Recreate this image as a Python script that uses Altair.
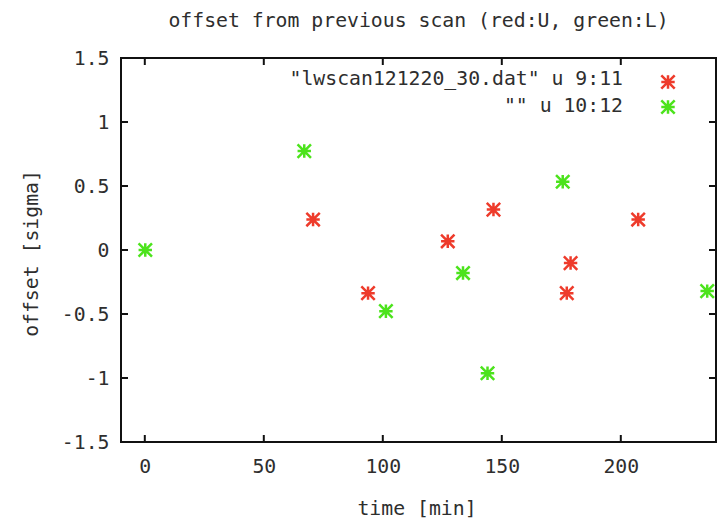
import altair as alt
import pandas as pd

# ---- data ----
u_time = [70.7, 93.8, 127.3, 146.5, 177.3, 178.9, 207.3]
u_offset = [0.238, -0.337, 0.068, 0.316, -0.337, -0.102, 0.238]
l_time = [0.2, 67.0, 101.3, 133.7, 144.0, 175.6, 236.3]
l_offset = [0.0, 0.773, -0.478, -0.18, -0.963, 0.533, -0.321]

series_names = ["U", "L"]
series_colors = ["#ee3b2b", "#4ce31c"]
legend_labels = ['"lwscan121220_30.dat" u 9:11', '"" u 10:12']

x_ticks = [0, 50, 100, 150, 200]
y_ticks = [-1.5, -1.0, -0.5, 0.0, 0.5, 1.0, 1.5]

title_text = "offset from previous scan (red:U, green:L)"
x_title = "time [min]"
y_title = "offset [sigma]"

# ---- layout / style ----
W, H = 595, 384
FONT = "DejaVu Sans Mono"
FS = 19.8
TXT = "#2e2e2e"
TICK = 7
STAR = "M-1,0L1,0M0,-1L0,1M-1,-1L1,1M-1,1L1,-1"
LEG_TEXT_Y = [21, 48]
LEG_MARK_Y = [24, 49]

df = pd.DataFrame({
    "time": u_time + l_time,
    "offset": u_offset + l_offset,
    "series": ["U"] * len(u_time) + ["L"] * len(l_time),
})
xt = pd.DataFrame({"t": x_ticks})
yt = pd.DataFrame({"v": y_ticks})

xscale = alt.Scale(domain=[-10, 240], nice=False, zero=False)
yscale = alt.Scale(domain=[-1.5, 1.5], nice=False, zero=False)
cscale = alt.Scale(domain=series_names, range=series_colors)

xaxis = alt.Axis(values=x_ticks, ticks=False, domain=False, grid=False,
                 labelFont=FONT, labelFontSize=FS, labelColor=TXT, labelPadding=14,
                 title=x_title, titleFont=FONT, titleFontSize=FS, titleFontWeight="normal",
                 titleColor=TXT, titleX=W / 2 - 2, titleY=66, titleBaseline="middle",
                 titleAlign="center")
yaxis = alt.Axis(values=y_ticks, ticks=False, domain=False, grid=False,
                 labelExpr="toString(datum.value)",
                 labelFont=FONT, labelFontSize=FS, labelColor=TXT, labelPadding=12,
                 title=y_title, titleFont=FONT, titleFontSize=FS, titleFontWeight="normal",
                 titleColor=TXT, titleX=-90, titleY=H / 2 + 3, titleAngle=270,
                 titleBaseline="middle", titleAlign="center")

points = alt.Chart(df).mark_point(shape=STAR, filled=False, size=180, strokeWidth=2.5,
                                  opacity=1).encode(
    x=alt.X("time:Q", scale=xscale, axis=xaxis),
    y=alt.Y("offset:Q", scale=yscale, axis=yaxis),
    color=alt.Color("series:N", scale=cscale, legend=None),
)

rule_style = dict(color="#111", strokeWidth=2)
xt_bottom = alt.Chart(xt).mark_rule(**rule_style).encode(
    x=alt.X("t:Q", scale=xscale), y=alt.value(H), y2=alt.value(H - TICK))
xt_top = alt.Chart(xt).mark_rule(**rule_style).encode(
    x=alt.X("t:Q", scale=xscale), y=alt.value(0), y2=alt.value(TICK))
yt_left = alt.Chart(yt).mark_rule(**rule_style).encode(
    y=alt.Y("v:Q", scale=yscale), x=alt.value(0), x2=alt.value(TICK))
yt_right = alt.Chart(yt).mark_rule(**rule_style).encode(
    y=alt.Y("v:Q", scale=yscale), x=alt.value(W), x2=alt.value(W - TICK))

legend_layers = []
for i, (lab, name, col) in enumerate(zip(legend_labels, series_names, series_colors)):
    row = pd.DataFrame({"label": [lab]})
    legend_layers.append(
        alt.Chart(row).mark_text(align="right", baseline="middle", font=FONT,
                                 fontSize=FS, color=TXT).encode(
            text="label:N", x=alt.value(502), y=alt.value(LEG_TEXT_Y[i]))
    )
    legend_layers.append(
        alt.Chart(row).mark_point(shape=STAR, filled=False, size=180, strokeWidth=2.5,
                                  opacity=1, color=col).encode(
            x=alt.value(547), y=alt.value(LEG_MARK_Y[i]))
    )

chart = alt.layer(points, xt_bottom, xt_top, yt_left, yt_right, *legend_layers).properties(
    width=W, height=H,
    title=alt.TitleParams(title_text, font=FONT, fontSize=FS, fontWeight="normal",
                          color=TXT, anchor="middle", offset=17),
    padding={"left": 121, "top": 58, "right": 1, "bottom": 78},
    autosize=alt.AutoSizeParams(type="none"),
).configure_view(stroke="#111", strokeWidth=2)

chart.save("out.html", embed_options={"renderer": "svg", "actions": False})
